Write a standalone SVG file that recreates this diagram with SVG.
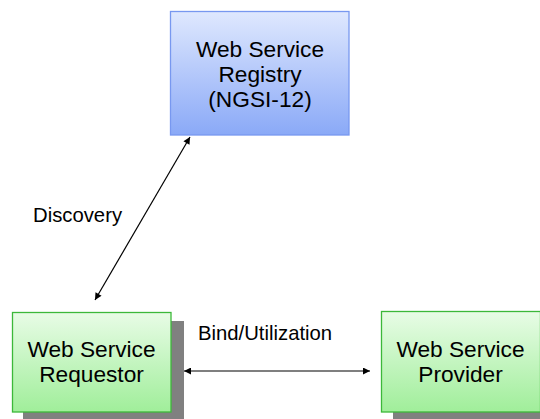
<svg xmlns="http://www.w3.org/2000/svg" width="540" height="419" viewBox="0 0 540 419">
<defs>
<linearGradient id="gBlue" x1="0" y1="0" x2="0" y2="1">
<stop offset="0" stop-color="#dfe8fe"/>
<stop offset="1" stop-color="#8aa9f7"/>
</linearGradient>
<linearGradient id="gGreen" x1="0" y1="0" x2="0" y2="1">
<stop offset="0" stop-color="#e8fce6"/>
<stop offset="1" stop-color="#a0ee9a"/>
</linearGradient>
<marker id="ah" viewBox="0 0 10 10" refX="10" refY="5" markerWidth="9" markerHeight="7" orient="auto-start-reverse" markerUnits="userSpaceOnUse">
<path d="M0,0 L10,5 L0,10 z" fill="#000"/>
</marker>
<style>
text{font-family:"Liberation Sans",Arial,sans-serif;fill:#000;}
.node{font-size:22.7px;text-anchor:middle;}
.lbl{font-size:20.3px;}
.shadow{fill:#808080;}
.blue{fill:url(#gBlue);stroke:#7898f0;stroke-width:1.3;}
.green{fill:url(#gGreen);stroke:#3cb83a;stroke-width:1.3;}
.conn{stroke:#000;stroke-width:1.2;fill:none;marker-start:url(#ah);marker-end:url(#ah);}
</style>
</defs>
<g id="registry">
<rect class="blue" x="170.5" y="11.5" width="178.5" height="123.5"/>
<text class="node" x="260" y="57">Web Service</text>
<text class="node" x="260" y="82">Registry</text>
<text class="node" x="260" y="107">(NGSI-12)</text>
</g>
<g id="requestor">
<rect class="shadow" x="23" y="321" width="161" height="100"/>
<rect class="green" x="12.5" y="312.5" width="158.5" height="99.5"/>
<text class="node" x="91.5" y="357">Web Service</text>
<text class="node" x="91.5" y="382">Requestor</text>
</g>
<g id="provider">
<rect class="shadow" x="393" y="320" width="150" height="101"/>
<rect class="green" x="381.5" y="311.5" width="159" height="100.5"/>
<text class="node" x="460.5" y="357">Web Service</text>
<text class="node" x="460.5" y="382">Provider</text>
</g>
<g id="connectors">
<line class="conn" x1="95" y1="300" x2="190" y2="137"/>
<line class="conn" x1="184" y1="371" x2="370" y2="371"/>
<text class="lbl" x="33" y="222">Discovery</text>
<text class="lbl" x="198" y="340">Bind/Utilization</text>
</g>
</svg>
